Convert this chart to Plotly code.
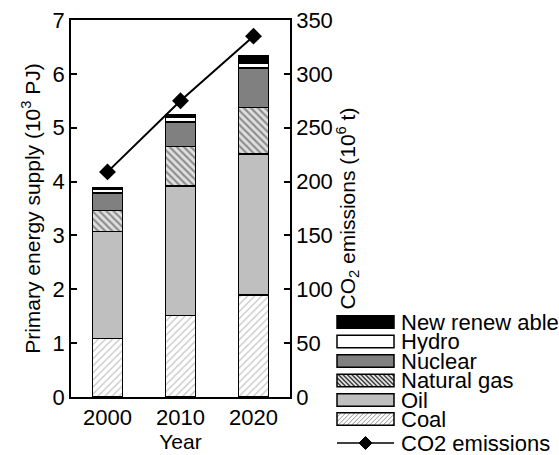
import plotly.graph_objects as go

# Primary energy supply by source (10^3 PJ) and CO2 emissions (10^6 t)
years = ["2000", "2010", "2020"]
coal = [1.09, 1.51, 1.89]
oil = [1.98, 2.41, 2.62]
natural_gas = [0.39, 0.73, 0.87]
nuclear = [0.33, 0.46, 0.73]
hydro = [0.07, 0.08, 0.09]
new_renewable = [0.03, 0.06, 0.13]
co2_emissions = [209, 275, 335]

left_ticks = [0, 1, 2, 3, 4, 5, 6, 7]
right_ticks = [0, 50, 100, 150, 200, 250, 300, 350]

FONT = "Liberation Sans, Arial, sans-serif"
FS_TITLE = 21
FS_TICK = 22
FS_LEG = 22
W, H = 559, 455
ML, MR, MT, MB = 71, 269, 20, 58
PW, PH = W - ML - MR, H - MT - MB

# Series styles: (name, values, fill colour, pattern)
series = [
    ("Coal", coal, "white", dict(shape="/", fgcolor="#8a8a8a", bgcolor="white", size=5, solidity=0.25)),
    ("Oil", oil, "#bfbfbf", None),
    ("Natural gas", natural_gas, "#d9d9d9", dict(shape="\\", fgcolor="#3a3a3a", bgcolor="#e0e0e0", size=5, solidity=0.42)),
    ("Nuclear", nuclear, "#808080", None),
    ("Hydro", hydro, "white", None),
    ("New renew able", new_renewable, "black", None),
]

fig = go.Figure()
for name, vals, color, pat in series:
    marker = dict(color=color, line=dict(color="black", width=1.5))
    if pat:
        marker["pattern"] = pat
    fig.add_trace(go.Bar(x=years, y=vals, name=name, marker=marker,
                         width=0.41, showlegend=False))

fig.add_trace(go.Scatter(x=years, y=co2_emissions, yaxis="y2", mode="lines+markers",
                         name="CO2 emissions", showlegend=False,
                         line=dict(color="black", width=2),
                         marker=dict(symbol="diamond", size=13, color="black")))


def px(x, y):
    """Pixel position -> paper coordinates."""
    return (x - ML) / PW, (H - MB - y) / PH


shapes = []
annotations = []


def hatch_path(x0, y0, x1, y1, step, forward=True):
    # Diagonal lines clipped to the rectangle (pixel coordinates)
    segs = []
    w, h = x1 - x0, y1 - y0
    k = -h
    while k < w:
        t0 = max(0, -k)
        t1 = min(h, w - k)
        if t1 > t0:
            if forward:
                a = (x0 + k + t0, y1 - t0)
                b = (x0 + k + t1, y1 - t1)
            else:
                a = (x0 + k + t0, y0 + t0)
                b = (x0 + k + t1, y0 + t1)
            pa, pb = px(*a), px(*b)
            segs.append(f"M{pa[0]:.5f},{pa[1]:.5f}L{pb[0]:.5f},{pb[1]:.5f}")
        k += step
    return "".join(segs)


# Custom legend block at lower right
lx0, lx1 = 337, 394
tx = 399
row_y = [322, 341.5, 361, 380.5, 400, 419]
legend_items = list(reversed(series))
sh = 12.5
for (name, vals, color, pat), cy in zip(legend_items, row_y):
    y0, y1 = cy - sh / 2, cy + sh / 2
    fill = pat["bgcolor"] if pat else color
    a, b = px(lx0, y1), px(lx1, y0)
    shapes.append(dict(type="rect", xref="paper", yref="paper", x0=a[0], y0=a[1], x1=b[0], y1=b[1],
                       fillcolor=fill, line=dict(width=0), layer="above"))
    if pat:
        shapes.append(dict(type="path", xref="paper", yref="paper",
                           path=hatch_path(lx0, y0, lx1, y1, 4.5, forward=(pat["shape"] == "/")),
                           line=dict(color=pat["fgcolor"], width=1.4 if pat["shape"] == "\\" else 0.9),
                           layer="above"))
    shapes.append(dict(type="rect", xref="paper", yref="paper", x0=a[0], y0=a[1], x1=b[0], y1=b[1],
                       fillcolor="rgba(0,0,0,0)", line=dict(color="black", width=1.5), layer="above"))
    t = px(tx, cy)
    annotations.append(dict(x=t[0], y=t[1], xref="paper", yref="paper", text=name, showarrow=False,
                            xanchor="left", yanchor="middle",
                            font=dict(family=FONT, size=FS_LEG, color="black")))

# CO2 legend entry: line with diamond
cy = 443
a, b = px(lx0, cy), px(lx1, cy)
shapes.append(dict(type="line", xref="paper", yref="paper", x0=a[0], y0=a[1], x1=b[0], y1=b[1],
                   line=dict(color="black", width=1.5)))
cx, d = 365.5, 6.5
pts = [px(cx, cy - d), px(cx + d, cy), px(cx, cy + d), px(cx - d, cy)]
shapes.append(dict(type="path", xref="paper", yref="paper",
                   path="M" + "L".join(f"{p[0]:.5f},{p[1]:.5f}" for p in pts) + "Z",
                   fillcolor="black", line=dict(color="black", width=1)))
t = px(tx, cy)
annotations.append(dict(x=t[0], y=t[1], xref="paper", yref="paper", text="CO2 emissions", showarrow=False,
                        xanchor="left", yanchor="middle",
                        font=dict(family=FONT, size=FS_LEG, color="black")))

fig.update_layout(
    width=W, height=H,
    margin=dict(l=ML, r=MR, t=MT, b=MB, autoexpand=False),
    barmode="stack",
    plot_bgcolor="white", paper_bgcolor="white",
    font=dict(family=FONT, size=FS_TICK, color="black"),
    showlegend=False,
    xaxis=dict(
        title=dict(text="Year", standoff=2, font=dict(size=FS_TITLE)),
        automargin=False,
        showline=True, linecolor="black", linewidth=1.5, mirror=True,
        ticks="", showgrid=False, tickfont=dict(size=FS_TICK),
    ),
    yaxis=dict(
        title=dict(text="Primary energy supply (10<sup>3</sup> PJ)", standoff=6, font=dict(size=FS_TITLE)),
        automargin=False,
        range=[0, 7], tickvals=left_ticks, showgrid=False, zeroline=False,
        showline=True, linecolor="black", linewidth=1.5,
        ticks="inside", ticklen=6, tickwidth=1.5, tickcolor="black", tickfont=dict(size=FS_TICK),
    ),
    yaxis2=dict(
        title=dict(text="CO<sub>2</sub> emissions (10<sup>6</sup> t)", standoff=2, font=dict(size=FS_TITLE)),
        automargin=False,
        overlaying="y", side="right",
        range=[0, 350], tickvals=right_ticks, showgrid=False, zeroline=False,
        showline=True, linecolor="black", linewidth=1.5,
        ticks="inside", ticklen=6, tickwidth=1.5, tickcolor="black", tickfont=dict(size=FS_TICK),
    ),
    shapes=shapes,
    annotations=annotations,
)

fig.write_html("out.html")
